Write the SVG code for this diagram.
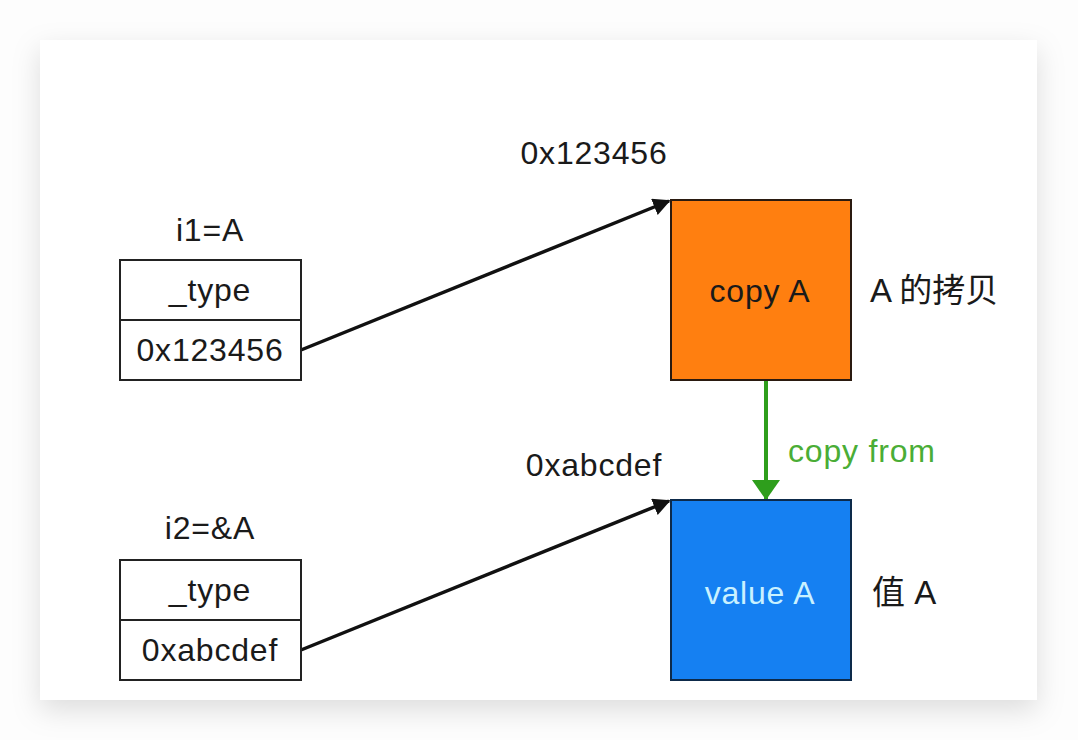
<svg xmlns="http://www.w3.org/2000/svg" width="1078" height="740" viewBox="0 0 1078 740">
<style>
  text { font-family: "Liberation Sans", Arial, "Noto Sans CJK SC", sans-serif; font-size: 32px; letter-spacing: 0.8px; fill: #1a1a1a; }
  .c { text-anchor: middle; }
  .cjk { font-size: 33px; letter-spacing: 0; }
  .cell { fill: #ffffff; stroke: #222; stroke-width: 2; }
  .edge { stroke: #111; stroke-width: 3.5; fill: none; }
</style>
<defs>
  <filter id="sh" x="-10%" y="-10%" width="120%" height="130%">
    <feDropShadow dx="0" dy="10" stdDeviation="14" flood-color="#000" flood-opacity="0.13"/>
  </filter>
  <marker id="ab" viewBox="0 0 10 10" refX="9" refY="5" markerWidth="5" markerHeight="5" orient="auto" markerUnits="strokeWidth">
    <path d="M0,0 L10,5 L0,10 z" fill="#111"/>
  </marker>
  <marker id="ag" viewBox="0 0 20 28" refX="19" refY="14" markerWidth="20" markerHeight="28" orient="auto" markerUnits="userSpaceOnUse">
    <path d="M0,0 L20,14 L0,28 z" fill="#2e9e1c"/>
  </marker>
</defs>
<rect width="1078" height="740" fill="#fdfdfd"/>
<rect x="40" y="40" width="997" height="660" fill="#ffffff" filter="url(#sh)"/>

<g id="connectors">
  <line class="edge" x1="301" y1="350" x2="669" y2="201" marker-end="url(#ab)"/>
  <line class="edge" x1="301" y1="650" x2="669" y2="501" marker-end="url(#ab)"/>
  <line x1="766" y1="381" x2="766" y2="499" stroke="#2e9e1c" stroke-width="4" marker-end="url(#ag)"/>
  <text x="788" y="462" style="fill:#4aad36">copy from</text>
</g>

<g id="i1">
  <text class="c" x="210" y="241">i1=A</text>
  <rect class="cell" x="120" y="260" width="181" height="60"/>
  <rect class="cell" x="120" y="320" width="181" height="60"/>
  <text class="c" x="210" y="301">_type</text>
  <text class="c" x="210" y="361">0x123456</text>
</g>

<g id="i2">
  <text class="c" x="210" y="539">i2=&amp;A</text>
  <rect class="cell" x="120" y="560" width="181" height="60"/>
  <rect class="cell" x="120" y="620" width="181" height="60"/>
  <text class="c" x="210" y="601">_type</text>
  <text class="c" x="210" y="661">0xabcdef</text>
</g>

<g id="copyA">
  <text class="c" x="594" y="164">0x123456</text>
  <rect x="671" y="200" width="180" height="180" fill="#ff7f10" stroke="#2a1a10" stroke-width="2"/>
  <text class="c" x="760" y="302">copy A</text>
  <text class="cjk" x="870" y="302">A 的拷贝</text>
</g>

<g id="valueA">
  <text class="c" x="594" y="476">0xabcdef</text>
  <rect x="671" y="500" width="180" height="180" fill="#1580f2" stroke="#0d2a4a" stroke-width="2"/>
  <text class="c" x="760" y="604" style="fill:#c9f1ff">value A</text>
  <text class="cjk" x="872" y="604">值 A</text>
</g>
</svg>
